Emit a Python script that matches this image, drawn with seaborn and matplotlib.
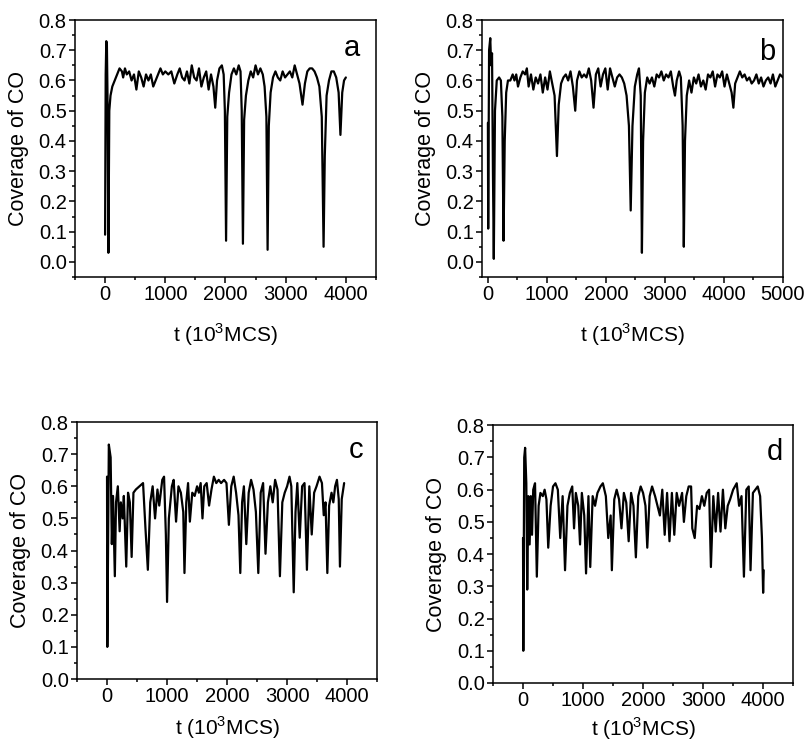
import matplotlib
matplotlib.use("Agg")
import matplotlib.pyplot as plt
from matplotlib.ticker import MultipleLocator
import seaborn as sns
import pandas as pd

# ---- Panel a ----
t_a = [0, 10, 20, 30, 40, 55, 70, 90, 120, 160, 200, 240, 280, 300, 330, 360, 400, 440, 480, 520,
       560, 600, 640, 680, 720, 760, 800, 840, 880, 920, 960, 1000, 1050, 1100, 1150, 1200, 1240,
       1280, 1320, 1360, 1400, 1440, 1480, 1520, 1560, 1600, 1640, 1680, 1720, 1760, 1800, 1830,
       1860, 1900, 1940, 1970, 1990, 2010, 2030, 2060, 2100, 2140, 2180, 2220, 2250, 2270, 2290,
       2310, 2340, 2380, 2420, 2460, 2500, 2540, 2580, 2620, 2650, 2680, 2700, 2720, 2750, 2790,
       2830, 2870, 2910, 2950, 2990, 3030, 3070, 3110, 3150, 3190, 3230, 3280, 3320, 3360, 3400,
       3440, 3480, 3520, 3560, 3600, 3630, 3650, 3680, 3720, 3760, 3800, 3840, 3880, 3910, 3940,
       3970, 4000]
cov_a = [0.09, 0.62, 0.73, 0.72, 0.55, 0.03, 0.50, 0.55, 0.58, 0.60, 0.62, 0.64, 0.63, 0.61, 0.64,
         0.62, 0.63, 0.60, 0.62, 0.57, 0.63, 0.61, 0.58, 0.62, 0.60, 0.62, 0.58, 0.60, 0.62, 0.64,
         0.62, 0.63, 0.62, 0.63, 0.59, 0.62, 0.64, 0.61, 0.60, 0.63, 0.59, 0.65, 0.61, 0.60, 0.64,
         0.58, 0.61, 0.63, 0.57, 0.62, 0.58, 0.51, 0.60, 0.64, 0.65, 0.62, 0.50, 0.07, 0.48, 0.56,
         0.62, 0.64, 0.62, 0.65, 0.63, 0.50, 0.06, 0.47, 0.55, 0.60, 0.63, 0.61, 0.65, 0.62, 0.64,
         0.62, 0.58, 0.48, 0.04, 0.45, 0.56, 0.61, 0.63, 0.61, 0.60, 0.63, 0.61, 0.62, 0.63, 0.61,
         0.65, 0.62, 0.59, 0.52, 0.59, 0.63, 0.64, 0.64, 0.63, 0.61, 0.58, 0.48, 0.05, 0.35, 0.55,
         0.60, 0.63, 0.63, 0.61, 0.56, 0.42, 0.56, 0.60, 0.61]

# ---- Panel b ----
t_b = [0, 5, 20, 40, 55, 70, 85, 100, 120, 150, 190, 220, 245, 265, 285, 310, 340, 380, 420, 450,
       480, 510, 550, 590, 630, 660, 690, 730, 770, 810, 850, 890, 930, 970, 1010, 1050, 1090, 1130,
       1170, 1200, 1240, 1280, 1320, 1360, 1400, 1440, 1480, 1510, 1550, 1590, 1630, 1670, 1710,
       1750, 1790, 1830, 1870, 1910, 1950, 1990, 2030, 2070, 2110, 2150, 2190, 2230, 2270, 2310,
       2350, 2390, 2420, 2450, 2490, 2530, 2560, 2590, 2610, 2630, 2660, 2700, 2740, 2780, 2820,
       2860, 2900, 2940, 2980, 3020, 3060, 3100, 3140, 3170, 3200, 3240, 3270, 3300, 3320, 3340,
       3370, 3410, 3450, 3490, 3530, 3570, 3610, 3650, 3690, 3730, 3770, 3810, 3850, 3890, 3930,
       3970, 4010, 4050, 4090, 4130, 4160, 4190, 4230, 4270, 4310, 4350, 4390, 4430, 4470, 4510,
       4550, 4590, 4630, 4670, 4710, 4750, 4790, 4830, 4870, 4910, 4950, 5000]
cov_b = [0.46, 0.11, 0.70, 0.74, 0.65, 0.69, 0.30, 0.01, 0.50, 0.60, 0.61, 0.60, 0.48, 0.07, 0.40,
         0.56, 0.60, 0.60, 0.62, 0.60, 0.62, 0.58, 0.61, 0.63, 0.62, 0.64, 0.58, 0.62, 0.57, 0.61,
         0.59, 0.62, 0.56, 0.61, 0.57, 0.63, 0.59, 0.55, 0.35, 0.52, 0.59, 0.61, 0.62, 0.60, 0.63,
         0.58, 0.50, 0.60, 0.63, 0.61, 0.62, 0.61, 0.64, 0.60, 0.51, 0.62, 0.64, 0.58, 0.62, 0.64,
         0.57, 0.64, 0.61, 0.58, 0.61, 0.62, 0.61, 0.59, 0.55, 0.45, 0.17, 0.45, 0.58, 0.62, 0.64,
         0.55, 0.03, 0.40, 0.56, 0.61, 0.59, 0.61, 0.58, 0.62, 0.61, 0.63, 0.60, 0.62, 0.61, 0.63,
         0.58, 0.55, 0.60, 0.63, 0.61, 0.45, 0.05, 0.40, 0.55, 0.60, 0.56, 0.61, 0.59, 0.62, 0.58,
         0.60, 0.57, 0.62, 0.61, 0.63, 0.58, 0.62, 0.61, 0.63, 0.58, 0.62, 0.59, 0.56, 0.51, 0.59,
         0.61, 0.63, 0.61, 0.62, 0.60, 0.61, 0.59, 0.60, 0.62, 0.59, 0.61, 0.58, 0.60, 0.61, 0.59,
         0.62, 0.58, 0.60, 0.62, 0.61]

# ---- Panel c ----
t_c = [0, 5, 30, 60, 80, 100, 130, 150, 180, 210, 230, 260, 280, 320, 350, 380, 410, 440, 480, 540,
       600, 640, 680, 720, 760, 800, 840, 870, 920, 950, 980, 1000, 1030, 1080, 1110, 1150, 1190,
       1230, 1270, 1290, 1320, 1350, 1380, 1420, 1460, 1500, 1530, 1560, 1590, 1620, 1660, 1700,
       1740, 1780, 1820, 1860, 1900, 1950, 1990, 2030, 2070, 2110, 2150, 2190, 2220, 2250, 2280,
       2320, 2360, 2400, 2440, 2480, 2520, 2560, 2600, 2640, 2680, 2720, 2760, 2800, 2840, 2880,
       2920, 2960, 3000, 3040, 3070, 3110, 3140, 3170, 3210, 3250, 3290, 3330, 3370, 3410, 3450,
       3490, 3540, 3580, 3610, 3640, 3670, 3700, 3740, 3770, 3800, 3830, 3860, 3880, 3910, 3950]
cov_c = [0.63, 0.10, 0.73, 0.69, 0.42, 0.57, 0.32, 0.55, 0.60, 0.46, 0.55, 0.50, 0.57, 0.35, 0.58,
         0.55, 0.38, 0.58, 0.59, 0.60, 0.61, 0.47, 0.34, 0.55, 0.60, 0.50, 0.59, 0.54, 0.62, 0.63,
         0.45, 0.24, 0.50, 0.60, 0.62, 0.49, 0.60, 0.58, 0.52, 0.33, 0.55, 0.61, 0.49, 0.58, 0.57,
         0.60, 0.58, 0.61, 0.50, 0.60, 0.61, 0.54, 0.59, 0.63, 0.61, 0.62, 0.61, 0.62, 0.61, 0.48,
         0.60, 0.63, 0.58, 0.51, 0.33, 0.55, 0.60, 0.42, 0.58, 0.62, 0.59, 0.52, 0.33, 0.58, 0.61,
         0.39, 0.55, 0.60, 0.55, 0.62, 0.59, 0.32, 0.55, 0.58, 0.60, 0.63, 0.60, 0.27, 0.52, 0.61,
         0.44, 0.60, 0.61, 0.34, 0.60, 0.45, 0.58, 0.60, 0.63, 0.61, 0.51, 0.55, 0.33, 0.54, 0.58,
         0.55, 0.60, 0.62, 0.56, 0.35, 0.56, 0.61]

# ---- Panel d ----
t_d = [0, 5, 20, 35, 55, 70, 90, 110, 130, 150, 170, 200, 230, 260, 290, 330, 360, 390, 420, 460,
       500, 540, 580, 620, 660, 700, 740, 780, 820, 850, 880, 920, 950, 980, 1020, 1050, 1090, 1120,
       1160, 1200, 1240, 1290, 1330, 1380, 1420, 1460, 1480, 1520, 1560, 1600, 1640, 1680, 1720,
       1760, 1800, 1840, 1880, 1920, 1960, 2000, 2040, 2070, 2110, 2150, 2200, 2240, 2280, 2320,
       2360, 2400, 2440, 2480, 2520, 2560, 2600, 2650, 2680, 2720, 2760, 2800, 2820, 2860, 2900,
       2940, 2980, 3020, 3060, 3100, 3130, 3170, 3210, 3250, 3290, 3330, 3370, 3410, 3450, 3500,
       3560, 3600, 3640, 3680, 3720, 3760, 3790, 3830, 3870, 3910, 3950, 3980, 4000, 4010]
cov_d = [0.45, 0.10, 0.70, 0.73, 0.62, 0.29, 0.58, 0.43, 0.58, 0.46, 0.60, 0.62, 0.33, 0.55, 0.59,
         0.58, 0.60, 0.57, 0.42, 0.55, 0.61, 0.62, 0.60, 0.45, 0.58, 0.35, 0.55, 0.59, 0.61, 0.48,
         0.59, 0.55, 0.43, 0.59, 0.52, 0.34, 0.58, 0.36, 0.58, 0.55, 0.59, 0.61, 0.62, 0.58, 0.45,
         0.52, 0.35, 0.57, 0.60, 0.57, 0.48, 0.59, 0.56, 0.44, 0.59, 0.55, 0.39, 0.58, 0.61, 0.59,
         0.55, 0.42, 0.58, 0.61, 0.58, 0.55, 0.52, 0.60, 0.46, 0.59, 0.44, 0.59, 0.46, 0.59, 0.55,
         0.59, 0.50, 0.58, 0.61, 0.61, 0.48, 0.45, 0.55, 0.54, 0.58, 0.55, 0.59, 0.60, 0.36, 0.58,
         0.47, 0.59, 0.47, 0.60, 0.48, 0.55, 0.57, 0.60, 0.62, 0.55, 0.58, 0.33, 0.60, 0.61, 0.35,
         0.59, 0.60, 0.61, 0.58, 0.45, 0.28, 0.35]

letters = ["a", "b", "c", "d"]
x_label = "t (10$^3$MCS)"
y_label = "Coverage of CO"

sns.set_style("ticks")
plt.rcParams["font.family"] = ["Liberation Sans", "DejaVu Sans"]
plt.rcParams["mathtext.fontset"] = "custom"
plt.rcParams["mathtext.rm"] = "Liberation Sans"
for key in ["text.color", "axes.labelcolor", "xtick.color", "ytick.color", "axes.edgecolor"]:
    plt.rcParams[key] = "black"

fig = plt.figure(figsize=(8.09, 7.47), dpi=100)

panels = [
    (t_a, cov_a, [0.0927, 0.6292, 0.372, 0.344], (-500, 4500), (-0.05, 0.8), (0.92, 0.89), 12),
    (t_b, cov_b, [0.5958, 0.6292, 0.372, 0.344], (-100, 5000), (-0.05, 0.8), (0.947, 0.875), 12),
    (t_c, cov_c, [0.0952, 0.0910, 0.371, 0.344], (-500, 4500), (0.0, 0.8), (0.93, 0.89), 6),
    (t_d, cov_d, [0.6094, 0.0857, 0.371, 0.345], (-500, 4500), (0.0, 0.8), (0.94, 0.895), 4),
]

for (tt, cc, pos, xl, yl, lp, xpad), let in zip(panels, letters):
    ax = fig.add_axes(pos)
    df = pd.DataFrame({"t": tt, "cov": cc})
    sns.lineplot(data=df, x="t", y="cov", ax=ax, color="black", lw=1.6,
                 estimator=None, sort=False)
    ax.set_xlim(*xl)
    ax.set_ylim(*yl)
    ax.xaxis.set_major_locator(MultipleLocator(1000))
    ax.xaxis.set_minor_locator(MultipleLocator(500))
    ax.yaxis.set_major_locator(MultipleLocator(0.1))
    ax.yaxis.set_minor_locator(MultipleLocator(0.05))
    ax.set_yticks([v / 10 for v in range(0, 9)])
    ax.set_yticklabels([f"{v / 10:.1f}" for v in range(0, 9)])
    ax.tick_params(which="major", direction="out", length=4, width=1.1, labelsize=14.5,
                   top=False, right=False, pad=2, colors="black")
    ax.tick_params(which="minor", direction="out", length=2.5, width=1.1, top=False,
                   right=False, colors="black")
    for s in ax.spines.values():
        s.set_linewidth(1.1)
        s.set_color("black")
    ax.set_xlabel(x_label, fontsize=15, labelpad=xpad, color="black")
    ax.set_ylabel(y_label, fontsize=15.5, labelpad=7, color="black")
    ax.text(lp[0], lp[1], let, transform=ax.transAxes, fontsize=21,
            ha="center", va="center", color="black")

fig.savefig("out.png", dpi=100)
